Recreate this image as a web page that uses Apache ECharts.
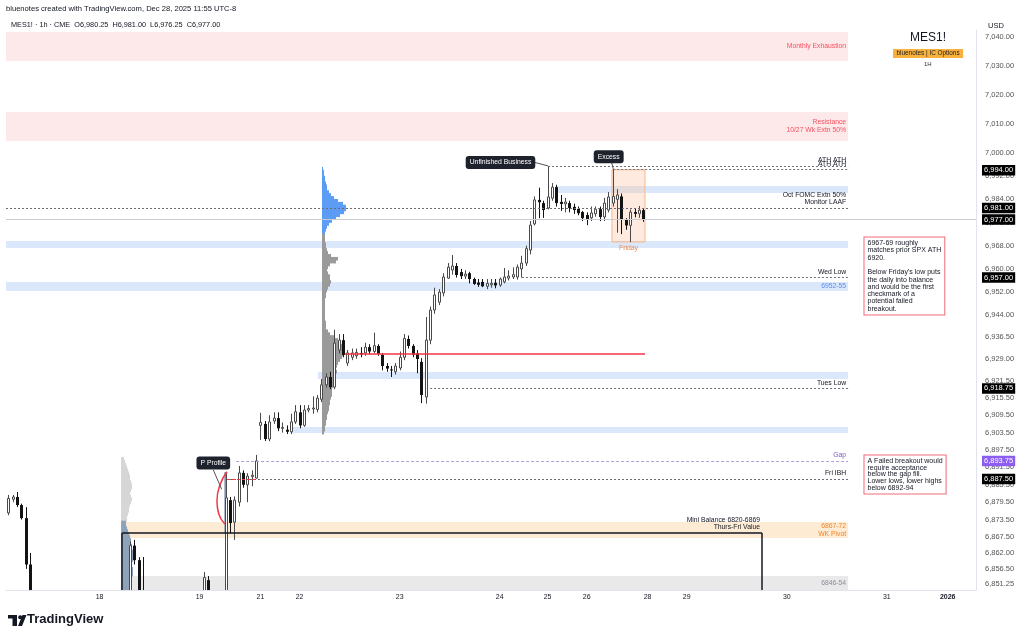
<!DOCTYPE html>
<html><head><meta charset="utf-8">
<script src="https://cdn.jsdelivr.net/npm/echarts@6/dist/echarts.min.js"></script>
<style>html,body{margin:0;padding:0;background:#fff}#c{width:1024px;height:639px}</style>
</head><body><div id="c"></div>
<script>
// ---- trading calendar (PT hours) -> category labels
const sessions = [
  ['12-17',2,13],['12-17',15,23],['12-18',0,13],['12-18',15,23],['12-19',0,13],
  ['12-21',15,23],['12-22',0,13],['12-22',15,23],['12-23',0,13],['12-23',15,23],
  ['12-24',0,10],['12-25',15,23],['12-26',0,13],['12-28',15,23],['12-29',0,13],
  ['12-29',15,23],['12-30',0,13],['12-30',15,23],['12-31',0,13],['01-01',15,21]
];
const categories = [];
sessions.forEach(([d,a,b]) => { for (let h = a; h <= b; h++) categories.push(d + ' ' + String(h).padStart(2,'0') + ':00'); });

// ---- OHLC (1h bars, from 12-17 02:00 to 12-26 13:00)
const opens = [6875.8,6880.5,6881.3,6878.5,6874,6858,6843,6838,6841,6839,6833,6836,6834,6831,6833,6835,6834,6831,6835,6838,6836,
6839,6837,6840,6843,6840,6844,6845,6846,6864.5,6859.5,6848,6846,6838,6831,6826,6830,6833,6835,6834,6836,6838,6840,6842,6845,
6847,6852.6,6846,6839,6842,6845,6880.2,6872.6,6879.5,6889.6,6885.5,6888.3,6887.8,
6906,6906.5,6901.3,6907.5,6908.5,6905,6904.5,6903.8,6907.2,6910.5,6906,6911.3,6911.8,6911.5,6915,6920,6922.7,6919.2,6932,6935.4,6927.5,6929.5,6930,6931,6931,6933,6931.5,6933.4,6930.3,6926.5,6925.3,6924.5,
6925.8,6929.5,6935.8,6933.4,6930.9,6927.9,6915.8,6935.4,6945.8,6948.5,6951.7,6956.8,6959.6,6961,6958.9,6957.5,6958.5,6956.5,6955.3,6955.5,6954,6954.5,6955.2,
6954.4,6955.5,6956.8,6957.2,6957.2,6960,6962,6966.5,6975.5,6983.8,6982.7,
6981,6984.4,6988.2,6983.1,6982.4,6982.7,6981.4,6980.7,6979.6,
6978.6,6977.6,6979,6980.6,6977.9,6980.3,6982.7,6984,6985,6977,6975,6979.6,6979,6980.25];
const highs = [6882,6882,6883,6879,6877.8,6862,6847,6844,6846,6843,6838,6840,6838,6835,6837,6839,6837,6836,6840,6842,6841,
6843,6842,6845,6847,6845,6847,6848,6866,6866.5,6860.5,6860.6,6848,6843,6836,6833,6836,6838,6839,6837,6840,6842,6844,6846,6848,
6855.4,6854,6848,6845,6848,6889.5,6881.3,6881.5,6892,6890.5,6889.5,6890.5,6895.8,
6910.3,6907.5,6909.5,6910.5,6910.5,6907,6906,6910,6913,6913,6913,6913,6916,6916.5,6922,6924,6924.5,6939,6937.5,6937.5,6932,6932.5,6932.5,6933,6934.5,6934,6938,6934,6931,6927.5,6926.5,6927.5,
6931.5,6937.5,6937,6934,6932,6929.2,6943.4,6947,6953.5,6953,6958.5,6962,6964.8,6962,6960,6959.5,6959,6957,6956.5,6956.5,6956.5,6956.5,6956.5,
6957,6960.3,6959.5,6960.5,6961.5,6964.5,6968,6976.5,6985,6988,6983.5,
6995.5,6989.6,6989,6985.5,6984.5,6983.5,6982.5,6981.5,6980,
6979.5,6981.5,6981.5,6981.5,6984.5,6986.5,6994.25,6987.5,6986,6977.5,6980.5,6980.8,6981.7,6981];
const lows = [6875,6879.5,6877.8,6873.5,6856.5,6840,6835,6832,6836,6830,6828,6831,6829,6826,6830,6832,6829,6828,6833,6834,6833,
6835,6832,6836,6838,6836,6838,6840,6843,6858,6844,6843,6835,6828,6822,6820,6826,6829,6831,6830,6833,6835,6836,6838,6841,
6845,6843,6836,6832,6838,6840,6868.8,6866.5,6878,6884.5,6879.5,6885,6887.5,
6901,6900.6,6900.5,6906.5,6904,6903.5,6903,6903,6906.5,6905,6905.5,6910.5,6910,6910.5,6914,6919,6918.5,6918.5,6930.8,6929.5,6926.5,6928.5,6929,6929.5,6930,6930.5,6931,6930,6925,6924.5,6922.7,6923.5,
6925,6928.5,6932.5,6929.5,6924,6913.7,6913.5,6934,6944.5,6947.5,6950.5,6956.5,6958,6957,6956.5,6956.5,6955,6954.5,6953.8,6953.7,6953,6953.5,6953.3,
6953.8,6955,6956,6956.5,6956.3,6957,6961,6965,6975,6977.5,6977.6,
6980.5,6983.5,6981.5,6980,6979.5,6979.5,6979,6978.5,6976.5,
6975.1,6976.5,6978,6976.5,6976.5,6979.5,6981.5,6972.5,6972,6973.5,6969.25,6977.8,6977.6,6976.25];
const closes = [6880.8,6881.3,6878.5,6874,6858,6843,6838,6841,6839,6833,6836,6834,6831,6833,6835,6834,6831,6835,6838,6836,6839,
6837,6840,6843,6840,6844,6845,6846,6864.5,6859.5,6848,6846,6838,6831,6826,6830,6833,6835,6834,6836,6838,6840,6842,6845,6846,
6853.5,6846,6839,6842,6845,6881,6872.3,6880.2,6889.6,6885.5,6888.5,6888.8,6893.75,
6907,6901.3,6907.2,6908.5,6905,6905.3,6903.8,6907.2,6910.7,6906,6911.3,6911.8,6912,6915.4,6920,6922.7,6919.2,6934.4,6935.4,6930.3,6931,6931,6931.2,6930.5,6933,6931.5,6933.5,6930.7,6926.5,6925.6,6925,6926.5,
6929.5,6936,6933.4,6930.3,6928.9,6916.5,6935.4,6945.8,6951,6952,6957.2,6960.6,6961,6957.9,6957.5,6958.2,6956.5,6954.8,6954.5,6954,6955,6955,6954.3,
6956.5,6957.2,6957.5,6958,6960.6,6962,6967,6975.1,6983.8,6983,6980.3,
6984.8,6988.2,6982.7,6982.4,6983.1,6981,6980.3,6979.2,6977.5,
6976.9,6979.3,6980.6,6977.9,6982.7,6984.8,6985,6985.5,6977,6975,6979.6,6979,6980.25,6977];

// ---- volume profiles (relative volume per 1-pt row, listed from top price downward)
const vpUpperTop = 6994;
const vpUpperValue = [1,2,2,3,3,4,5,5,7,9,12,16,21,24,24,22,18,14,10,7,5,4,3];
const vpUpperRest = [3,3,3,4,4,5,6,9,16,14,8,6,5,6,8,8,9,8,6,5,4,4,3,3,3,3,3,3,3,3,4,4,4,6,8,12,16,18,20,22,23,22,20,18,16,15,14,15,14,13,12,12,11,10,10,10,9,8,8,7,7,6,5,5,4,4,3,3,2];
const vpLowerTop = 6894;
const vpLowerRest = [3,4,5,6,7,8,9,9,10,11,11,10,9,10,11,10,9,8,8,7,6,6];
const vpLowerValue = [5,5,6,7,8,9,10,10,11,11,12,12,12,12,11,11,12,12,12,11,11,10,10,10];

// ---- price scale ticks / tags
const priceTicks = [7040,7030,7020,7010,7000,6992,6984,6976,6968,6960,6952,6944,6936.5,6929,6921.5,6915.5,6909.5,6903.5,6897.5,6891.5,6885.5,6879.5,6873.5,6867.5,6862,6856.5,6851.25];
const priceTags = [6994,6981,6977,6957,6918.75,6893.75,6887.5];

// ---- layout constants
const YMIN = 6849.2, YMAX = 7042.42;
const NCAT = categories.length;
const BAND = 970 / NCAT;
const END = 193.6;           // right end of drawn levels (bar units)
const FONT = 'Liberation Sans, Arial, sans-serif';
const fmt = v => v.toLocaleString('en-US',{minimumFractionDigits:2, maximumFractionDigits:2});

const candleData = opens.map((o,i) => [i, o, closes[i], lows[i], highs[i]]);

function vpRows(top, vols, color, base) {
  return vols.map((v,i) => [base, top - i, v, color]);
}
const vpData = [].concat(
  vpRows(vpUpperTop, vpUpperValue, '#5c9cf5', 72.65),
  vpRows(vpUpperTop - vpUpperValue.length, vpUpperRest, '#9a9a9a', 72.65),
  vpRows(vpLowerTop, vpLowerRest, '#d6d6d6', 26.45),
  vpRows(vpLowerTop - vpLowerRest.length, vpLowerValue, '#8ea3b9', 26.45)
);

const lblS = {fontFamily: FONT, fontSize: 6.8};
function band(u1, v1, u2, v2, color, name, lcolor) {
  return [{coord:[u1,v1], name: name || '', itemStyle:{color},
           label:{show: !!name, position:'insideRight', distance:2, color:lcolor, align:'right', lineHeight:8, ...lblS}},
          {coord:[u2,v2]}];
}
function hline(u1, u2, v, color, type, text, lcolor, w) {
  return [{coord:[u1,v], lineStyle:{color, type, width: w || 1},
           label:{show: !!text, formatter: text || '', position:'insideEndTop', distance:2, color: lcolor || '#131722', align:'right', lineHeight:7, ...lblS}},
          {coord:[u2,v]}];
}

const option = {
  animation: false,
  backgroundColor: '#ffffff',
  title: [
    {text:'bluenotes created with TradingView.com, Dec 28, 2025 11:55 UTC-8', left:6, top:5, padding:0, textStyle:{fontFamily:FONT, fontSize:7.6, fontWeight:'normal', color:'#131722'}},
    {text:'MES1! · 1h · CME  O6,980.25  H6,981.00  L6,976.25  C6,977.00', left:11, top:21, padding:0, textStyle:{fontFamily:FONT, fontSize:7.3, fontWeight:'normal', color:'#131722'}},
    {text:'USD', left:988, top:22, padding:0, textStyle:{fontFamily:FONT, fontSize:7.5, fontWeight:'normal', color:'#131722'}},
    {text:'MES1!', left:910, top:32, padding:0, textStyle:{fontFamily:FONT, fontSize:12, fontWeight:'normal', color:'#131722'}},
    {text:'bluenotes | IC Options', left:893, top:49, padding:[1.5,3.5], backgroundColor:'#f9b13e', textStyle:{fontFamily:FONT, fontSize:6.4, fontWeight:'normal', color:'#222'}},
    {text:'1H', left:924, top:61, padding:0, textStyle:{fontFamily:FONT, fontSize:6, fontWeight:'normal', color:'#333'}},
    {text:'TradingView', left:27, top:613, padding:0, textStyle:{fontFamily:FONT, fontSize:13, fontWeight:'bold', color:'#131722'}}
  ],
  graphic: [
    {type:'rect', shape:{x:8, y:615, width:9, height:3.5}, style:{fill:'#131722'}},
    {type:'rect', shape:{x:12.5, y:615, width:4.5, height:11}, style:{fill:'#131722'}},
    {type:'circle', shape:{cx:20.2, cy:617.2, r:2}, style:{fill:'#131722'}},
    {type:'polygon', shape:{points:[[18,626],[22,626],[26.5,615],[22.5,615]]}, style:{fill:'#131722'}}
  ],
  grid: {left:6, right:48, top:30, bottom:49, outerBoundsMode:'none'},
  xAxis: [
    {type:'category', data:categories, boundaryGap:true,
     axisLine:{show:true, onZero:false, lineStyle:{color:'#e0e3eb'}}, axisTick:{show:false}, splitLine:{show:false},
     axisLabel:{
       interval:(i, v) => i > 0 && v.slice(0,5) !== categories[i-1].slice(0,5),
       formatter:(v) => v.startsWith('01-01') ? '{y|2026}' : String(+v.slice(3,5)),
       fontFamily:FONT, fontSize:7, color:'#131722', margin:4,
       rich:{y:{fontFamily:FONT, fontSize:7, fontWeight:'bold', color:'#131722'}}
     }},
    {type:'value', min:0, max:NCAT, show:false}
  ],
  yAxis: {type:'value', position:'right', min:YMIN, max:YMAX, scale:true,
    axisLine:{show:true, onZero:false, lineStyle:{color:'#e0e3eb'}}, axisTick:{show:false}, splitLine:{show:false},
    axisLabel:{customValues:priceTicks, formatter:fmt, fontFamily:FONT, fontSize:7.5, color:'#555', margin:9}},
  series: [
    { // zones behind everything
      type:'line', xAxisIndex:1, data:[], z:1, silent:true,
      markArea:{silent:true, data:[
        band(0, 7041.7, END, 7031.7, '#fde8ea', 'Monthly Exhaustion', '#f7525f'),
        band(0, 7014.1, END, 7004.1, '#fde8ea', 'Resistance\n10/27 Wk Extn 50%', '#f7525f'),
        band(126.3, 6988.6, END, 6986.2, '#dbe8fb'),
        band(0, 6969.6, END, 6967.2, '#dbe8fb'),
        band(0, 6955.5, END, 6952.4, '#dbe8fb', '6952-55', '#5b8def'),
        band(71.7, 6924.4, END, 6922.0, '#dbe8fb'),
        band(65.3, 6905.4, END, 6903.4, '#dbe8fb'),
        band(26.7, 6872.7, END, 6867.1, '#fdebd3', '6867-72\nWK Pivot', '#f5832a'),
        band(26.7, 6854, END, YMIN, '#e9e9ea', '6846-54', '#8a8d96'),
        [{coord:[139.3, 6994.2], name:'Friday', itemStyle:{color:'rgba(251,196,160,0.35)', borderColor:'#f6b68a', borderWidth:1},
          label:{show:true, position:'bottom', distance:2, color:'#f0874b', ...lblS}}, {coord:[146.9, 6969.3]}],
        [{coord:[50.2, 6889.9], itemStyle:{color:'#7f95ad'}}, {coord:[50.8, 6868.9]}]
      ]}
    },
    { // volume profiles
      type:'custom', xAxisIndex:1, z:2, silent:true, clip:true,
      encode:{x:0, y:1},
      data: vpData,
      renderItem:(params, api) => {
        const base = api.value(0), p = api.value(1), vol = api.value(2);
        const a = api.coord([base, p + 1]);
        const b = api.coord([base + vol / BAND, p]);
        return {type:'rect', shape:{x:a[0], y:a[1] - 0.35, width:b[0]-a[0], height:b[1]-a[1] + 0.7},
                style:{fill: vpData[params.dataIndex][3]}};
      }
    },
    { // level lines
      type:'line', xAxisIndex:1, data:[], z:2, silent:true,
      markLine:{silent:true, symbol:['none','none'], data:[
        hline(0, NCAT, 6977, '#c9ccd3', 'solid'),
        hline(0, END, 6981, '#6a6d78', [2,2], 'Oct FOMC Extn 50%\nMonitor LAAF'),
        hline(124.6, END, 6995.5, '#6a6d78', [2,2], 'ATH ATH'),
        hline(139.6, END, 6994.3, '#6a6d78', [2,2], 'ATH ATH'),
        hline(118.6, END, 6957, '#6a6d78', [2,2], 'Wed Low'),
        hline(97.5, END, 6918.75, '#6a6d78', [2,2], 'Tues Low'),
        hline(52.9, END, 6893.75, '#b39ddb', [3,2], 'Gap', '#7e57c2'),
        hline(51.5, END, 6887.5, '#6a6d78', [2,2], 'Fri IBH'),
        hline(50.8, 57.3, 6887.5, '#f23645', [3,2]),
        hline(77.9, 146.9, 6930.6, '#f23645', 'solid', '', '', 1.5),
        hline(26.7, 173.8, 6868.9, '#131722', 'solid', 'Mini Balance 6820-6869\nThurs-Fri Value', '#131722', 1.5),
        [{coord:[26.7, 6868.9], lineStyle:{color:'#131722', type:'solid', width:1.5}}, {coord:[26.7, YMIN]}],
        [{coord:[173.8, 6868.9], lineStyle:{color:'#131722', type:'solid', width:1.5}}, {coord:[173.8, YMIN]}]
      ]}
    },
    { // P profile arc
      type:'line', xAxisIndex:1, z:4, silent:true, smooth:true, symbol:'none',
      lineStyle:{color:'#f23645', width:1.5},
      data:[[50.8,6890],[49.2,6885.5],[48.5,6880],[48.9,6875.5],[50.3,6872]]
    },
    { // candles (custom render so partial bars are clipped at the pane edge)
      type:'custom', xAxisIndex:0, z:3, silent:true, clip:true,
      encode:{x:0, y:[1,2,3,4]},
      data: candleData,
      renderItem:(params, api) => {
        const i = api.value(0), o = api.value(1), c = api.value(2), l = api.value(3), h = api.value(4);
        const pO = api.coord([i, o]), pC = api.coord([i, c]), pL = api.coord([i, l]), pH = api.coord([i, h]);
        const xc = Math.round(pO[0]);
        const up = c >= o;
        const top = Math.min(pO[1], pC[1]);
        const hgt = Math.max(Math.abs(pO[1] - pC[1]), 1);
        const wick = {type:'line', shape:{x1:xc + 0.5, y1:pH[1], x2:xc + 0.5, y2:pL[1]},
                      style:{stroke: up ? '#4a4a4a' : '#131313', lineWidth:1}};
        const body = up
          ? {type:'rect', shape:{x:xc - 0.5, y:top, width:2, height:hgt}, style:{fill:'#ffffff', stroke:'#4a4a4a', lineWidth:1}}
          : {type:'rect', shape:{x:xc - 1, y:top, width:3, height:hgt}, style:{fill:'#131313'}};
        return {type:'group', children:[wick, body]};
      }
    },
    { // callouts & notes
      type:'line', xAxisIndex:1, data:[], z:5, silent:true,
      markLine:{silent:true, symbol:['none','circle'], symbolSize:[0,3.5], lineStyle:{color:'#555', type:'solid', width:1},
        label:{show:false}, data:[
        [{coord:[121.45, 6996.78]}, {coord:[124.67, 6995.5]}],
        [{coord:[139.25, 6996.64]}, {coord:[139.62, 6994.36]}],
        [{coord:[47.66, 6890.6]}, {coord:[49.59, 6883.96]}]
      ]},
      markPoint:{silent:true, symbol:'circle', symbolSize:1, itemStyle:{color:'transparent'}, data:[
        {coord:[113.68, 6996.71], label:{show:true, position:'inside', formatter:'Unfinished Business', backgroundColor:'#1e222d', borderRadius:3, padding:[3,4], color:'#fff', ...lblS}},
        {coord:[138.56, 6998.71], label:{show:true, position:'inside', formatter:'Excess', backgroundColor:'#1e222d', borderRadius:3, padding:[3,4], color:'#fff', ...lblS}},
        {coord:[47.66, 6893.04], label:{show:true, position:'inside', formatter:'P Profile', backgroundColor:'#1e222d', borderRadius:3, padding:[3,4], color:'#fff', ...lblS}},
        {coord:[197.48, 6970.66], label:{show:true, position:[0,0], align:'left', verticalAlign:'top',
          formatter:"6967-69 roughly\nmatches prior SPX ATH\n6920.\n\nBelow Friday's low puts\nthe daily into balance\nand would be the first\ncheckmark of a\npotential failed\nbreakout.",
          backgroundColor:'#fff', borderColor:'#f06a78', borderWidth:1, padding:[2,3,2,3], color:'#131722', lineHeight:7.3, fontFamily:FONT, fontSize:7}},
        {coord:[197.48, 6895.45], label:{show:true, position:[0,0], align:'left', verticalAlign:'top',
          formatter:"A Failed breakout would\nrequire acceptance\nbelow the gap fill.\nLower lows, lower highs\nbelow 6892-94",
          backgroundColor:'#fff', borderColor:'#f06a78', borderWidth:1, padding:[2,3,2,3], color:'#131722', lineHeight:6.8, fontFamily:FONT, fontSize:7}}
      ]}
    },
    { // price scale tags
      type:'line', xAxisIndex:1, data:[], z:6, silent:true,
      markLine:{silent:true, symbol:['none','none'], data: priceTags.map(v => ({
        yAxis:v, lineStyle:{color:'transparent', width:0},
        label:{show:true, position:'end', distance:6, formatter: fmt(v), color:'#fff',
               backgroundColor: v === 6893.75 ? '#8d5cf0' : '#000', padding:[1.5,2,1,2], fontFamily:FONT, fontSize:7.5}
      }))}
    }
  ]
};
const chart = echarts.init(document.getElementById('c'));
chart.setOption(option);
</script></body></html>
